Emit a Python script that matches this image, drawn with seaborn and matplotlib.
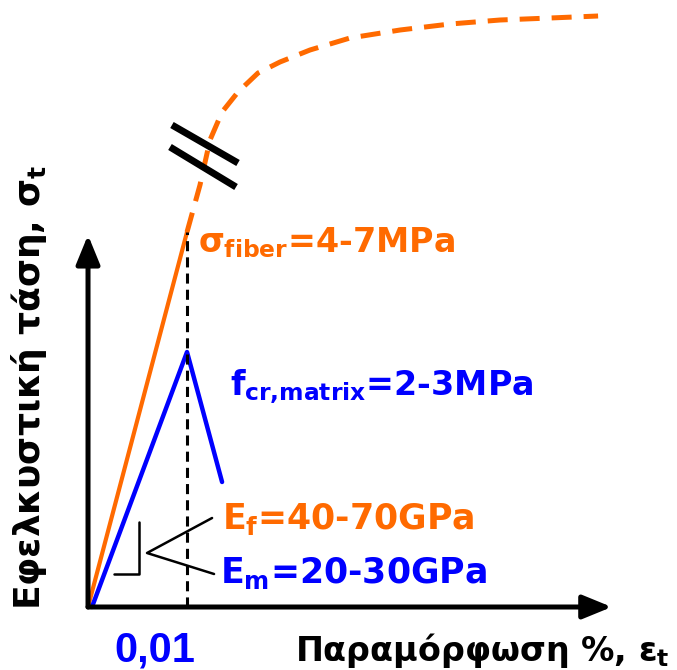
# Schematic stress-strain diagram: fibre vs matrix in tension
import matplotlib
matplotlib.use("Agg")
import matplotlib.pyplot as plt
import seaborn as sns

# ==========================
# Data (strain %, stress in arbitrary MPa-like units)
# ==========================
fiber_x = [0.0, 0.01]
fiber_y = [0.0, 3.75]

fiber_tail_x = [0.0100, 0.01131, 0.01232, 0.01354, 0.01515, 0.01717, 0.01939,
                0.02242, 0.02646, 0.03152, 0.03657, 0.04162, 0.04667, 0.05152]
fiber_tail_y = [3.75, 4.22, 4.67, 4.95, 5.15, 5.34, 5.45,
                5.57, 5.69, 5.77, 5.83, 5.87, 5.89, 5.91]

matrix_x = [0.0004, 0.01, 0.01354]
matrix_y = [0.0, 2.55, 1.25]

crack_strain = 0.01
crack_strain_label = "0,01"

label_fiber = "$σ_{fiber}$=4-7MPa"
label_matrix = "$f_{cr{,}matrix}$=2-3MPa"
label_ef = "$E_f$=40-70GPa"
label_em = "$E_m$=20-30GPa"
xlabel = "Παραμόρφωση %, $ε_t$"
ylabel = "Εφελκυστική τάση, $σ_t$"

ORANGE = "#FF6A00"
BLUE = "#0000FF"

# ==========================
# Style
# ==========================
sns.set_style("white")
plt.rcParams["font.family"] = ["DejaVu Sans"]
plt.rcParams["font.weight"] = "bold"
plt.rcParams["mathtext.fontset"] = "custom"
plt.rcParams["mathtext.rm"] = "DejaVu Sans:bold"
plt.rcParams["mathtext.it"] = "DejaVu Sans:bold"
plt.rcParams["mathtext.bf"] = "DejaVu Sans:bold"
plt.rcParams["mathtext.sf"] = "DejaVu Sans:bold"

fig = plt.figure(figsize=(6.77, 6.70), dpi=100)
ax = fig.add_axes([0, 0, 1, 1])
ax.set_xlim(-0.00889, 0.05949)
ax.set_ylim(-0.63, 6.07)
ax.axis("off")

# ==========================
# Axes with arrows
# ==========================
arrow = dict(arrowstyle="-|>,head_length=1.1,head_width=0.45", mutation_scale=16,
             lw=3.6, color="black", shrinkA=0, shrinkB=0)
ax.annotate("", xy=(0.0529, 0), xytext=(0, 0), arrowprops=arrow)
ax.annotate("", xy=(0, 3.72), xytext=(0, 0), arrowprops=arrow)

# ==========================
# Curves
# ==========================
sns.lineplot(x=fiber_x, y=fiber_y, color=ORANGE, lw=3.0, ax=ax)
sns.lineplot(x=fiber_tail_x, y=fiber_tail_y, color=ORANGE, lw=3.6,
             linestyle=(0, (4, 2.4)), ax=ax)
sns.lineplot(x=matrix_x, y=matrix_y, color=BLUE, lw=3.2, ax=ax)

# vertical dashed line at the cracking strain
ax.plot([crack_strain, crack_strain], [0, 3.75], color="black", lw=2.2,
        linestyle=(0, (3.3, 2)))

# break marks on the fibre curve
ax.plot([0.00848, 0.01515], [4.82, 4.44], color="black", lw=5, solid_capstyle="butt")
ax.plot([0.00828, 0.01495], [4.60, 4.20], color="black", lw=5, solid_capstyle="butt")

# slope symbol and pointer lines
ax.plot([0.00263, 0.00515, 0.00515], [0.33, 0.33, 0.85], color="black", lw=1.8)
ax.plot([0.01253, 0.00596, 0.01273], [0.89, 0.54, 0.33], color="black", lw=1.8)

# ==========================
# Labels
# ==========================
ax.text(0.0111, 3.55, label_fiber, color=ORANGE, fontsize=24, va="baseline")
ax.text(0.01434, 2.12, label_matrix, color=BLUE, fontsize=24, va="baseline")
ax.text(0.01354, 0.78, label_ef, color=ORANGE, fontsize=25, va="baseline")
ax.text(0.01333, 0.24, label_em, color=BLUE, fontsize=25, va="baseline")
ax.text(0.00677, -0.54, crack_strain_label, color=BLUE, fontsize=30,
        family="Liberation Sans", ha="center", va="baseline")
ax.text(0.0209, -0.54, xlabel, color="black", fontsize=24, va="baseline")
ax.text(-0.00485, -0.03, ylabel, color="black", fontsize=26, rotation=90,
        rotation_mode="anchor", ha="left", va="baseline")

fig.savefig("out.png", dpi=100)
